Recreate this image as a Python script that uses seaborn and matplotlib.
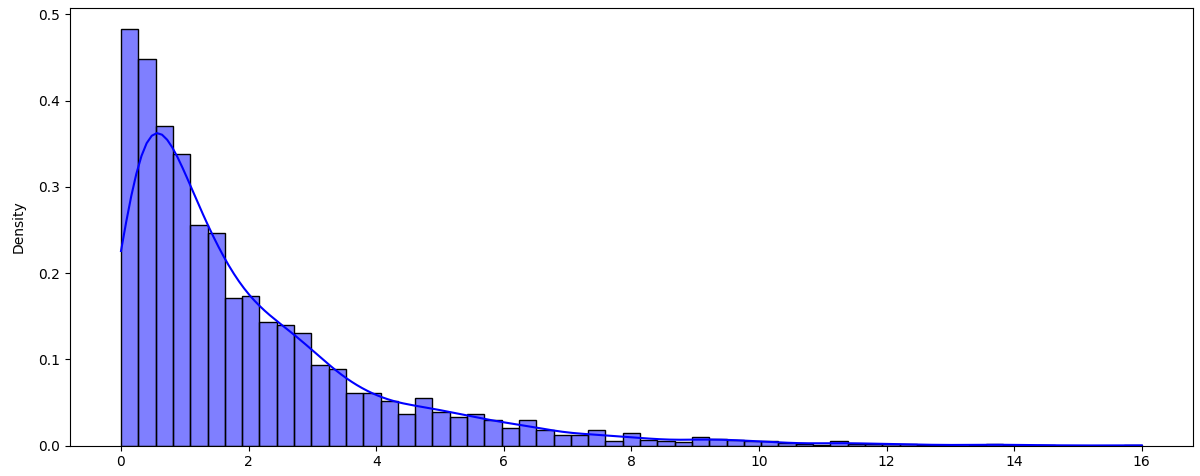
import numpy as np
import pandas as pd
import matplotlib
matplotlib.use("Agg")
import matplotlib.pyplot as plt
import seaborn as sns

## histogram data (density per bin, 59 bins from 0 to 16)
n_bins = 59
x_range = (0, 16)
bin_edges = np.linspace(x_range[0], x_range[1], n_bins + 1)
bin_mids = (bin_edges[:-1] + bin_edges[1:]) / 2
density = [
    0.482, 0.447, 0.370, 0.337, 0.255, 0.246, 0.171, 0.173, 0.143, 0.139,
    0.130, 0.093, 0.089, 0.061, 0.061, 0.052, 0.037, 0.055, 0.039, 0.033,
    0.036, 0.029, 0.020, 0.029, 0.018, 0.012, 0.012, 0.018, 0.005, 0.014,
    0.0066, 0.0055, 0.0045, 0.0093, 0.0074, 0.0066, 0.0047, 0.0047, 0.003, 0.0015,
    0.001, 0.0055, 0.002, 0.002, 0.0015, 0.0015, 0.0007, 0.0007, 0.0, 0.0007,
    0.002, 0.0007, 0.0, 0.0007, 0.0, 0.0, 0.0, 0.0, 0.0007,
]
hist_df = pd.DataFrame({"value": bin_mids, "density": density})

fig, ax = plt.subplots(figsize=(12, 4.76), dpi=100)
fig.subplots_adjust(left=0.0583, right=0.994, top=0.983, bottom=0.064)

sns.histplot(
    data=hist_df,
    x="value",
    weights="density",
    bins=n_bins,
    binrange=x_range,
    stat="density",
    kde=True,
    color="blue",
    alpha=0.5,
    edgecolor="black",
    kde_kws={"bw_adjust": 0.32, "cut": 3, "clip": x_range},
    ax=ax,
)
ax.set_xlabel(None)
ax.set_ylabel("Density", labelpad=9)

plt.savefig("out.png", dpi=100)
